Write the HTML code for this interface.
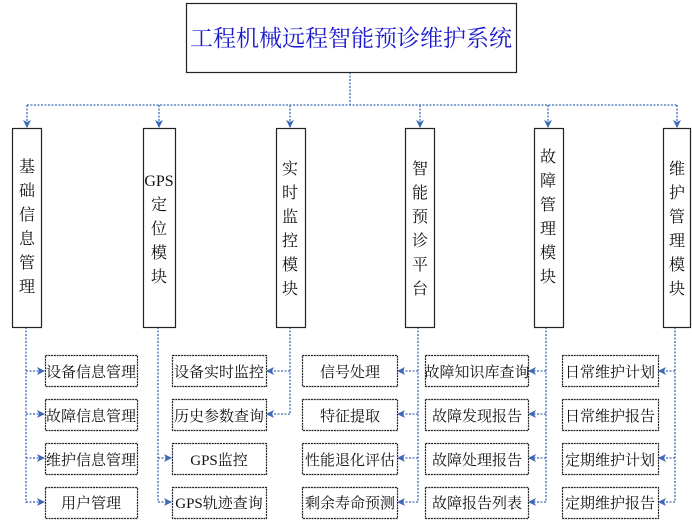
<!DOCTYPE html>
<html><head><meta charset="utf-8"><style>
html,body{margin:0;padding:0;background:#fff;}
svg text{font-family:"Liberation Serif","Noto Serif CJK SC",serif;fill:#111;}
</style></head><body>
<svg width="692" height="521" viewBox="0 0 692 521" xmlns="http://www.w3.org/2000/svg">
<defs>
<marker id="a" markerWidth="8" markerHeight="8" refX="7" refY="4" orient="auto" markerUnits="userSpaceOnUse">
<path d="M0,0 L8,4 L0,8 L2,4 Z" fill="#3a6ab8"/></marker>
</defs>
<g stroke="#3a6ab8" stroke-width="1.3" fill="none" stroke-dasharray="2,1.5">
<line x1="350" y1="72" x2="350" y2="105"/>
<line x1="27" y1="105" x2="677" y2="105"/>
<line x1="27" y1="105" x2="27" y2="127" marker-end="url(#a)"/>
<line x1="159" y1="105" x2="159" y2="127" marker-end="url(#a)"/>
<line x1="290" y1="105" x2="290" y2="127" marker-end="url(#a)"/>
<line x1="420" y1="105" x2="420" y2="127" marker-end="url(#a)"/>
<line x1="548" y1="105" x2="548" y2="127" marker-end="url(#a)"/>
<line x1="677" y1="105" x2="677" y2="127" marker-end="url(#a)"/>
<line x1="26" y1="327" x2="26" y2="503"/>
<line x1="26" y1="371" x2="44" y2="371" marker-end="url(#a)"/>
<line x1="26" y1="414" x2="44" y2="414" marker-end="url(#a)"/>
<line x1="26" y1="458" x2="44" y2="458" marker-end="url(#a)"/>
<line x1="26" y1="502" x2="44" y2="502" marker-end="url(#a)"/>
<line x1="158" y1="327" x2="158" y2="502"/>
<line x1="158" y1="458" x2="171" y2="458" marker-end="url(#a)"/>
<line x1="158" y1="502" x2="171" y2="502" marker-end="url(#a)"/>
<line x1="290" y1="327" x2="290" y2="414"/>
<line x1="290" y1="371" x2="267" y2="371" marker-end="url(#a)"/>
<line x1="290" y1="414" x2="267" y2="414" marker-end="url(#a)"/>
<line x1="418" y1="327" x2="418" y2="502"/>
<line x1="418" y1="371" x2="398" y2="371" marker-end="url(#a)"/>
<line x1="418" y1="414" x2="398" y2="414" marker-end="url(#a)"/>
<line x1="418" y1="458" x2="398" y2="458" marker-end="url(#a)"/>
<line x1="418" y1="502" x2="398" y2="502" marker-end="url(#a)"/>
<line x1="546" y1="327" x2="546" y2="502"/>
<line x1="546" y1="371" x2="529" y2="371" marker-end="url(#a)"/>
<line x1="546" y1="414" x2="529" y2="414" marker-end="url(#a)"/>
<line x1="546" y1="458" x2="529" y2="458" marker-end="url(#a)"/>
<line x1="546" y1="502" x2="529" y2="502" marker-end="url(#a)"/>
<line x1="675" y1="327" x2="675" y2="502"/>
<line x1="675" y1="371" x2="659" y2="371" marker-end="url(#a)"/>
<line x1="675" y1="458" x2="659" y2="458" marker-end="url(#a)"/>
<line x1="675" y1="502" x2="659" y2="502" marker-end="url(#a)"/>
</g>
<g stroke="#222" stroke-width="1.2" fill="#fff">
<rect x="186.5" y="3.5" width="330" height="69"/>
<rect x="12.5" y="128.5" width="29" height="199"/>
<rect x="143.5" y="128.5" width="32" height="199"/>
<rect x="276.5" y="128.5" width="29" height="199"/>
<rect x="405.5" y="128.5" width="29" height="199"/>
<rect x="534.5" y="128.5" width="29" height="199"/>
<rect x="663.5" y="128.5" width="27" height="199"/>
</g>
<g stroke="#222" stroke-width="1.2" fill="#fff" stroke-dasharray="2,0.8">
<rect x="45.5" y="355.5" width="92" height="31"/><rect x="45.5" y="399.5" width="92" height="31"/><rect x="45.5" y="443.5" width="92" height="31"/><rect x="45.5" y="487.5" width="92" height="31"/>
<rect x="172.5" y="355.5" width="94" height="31"/><rect x="172.5" y="399.5" width="94" height="31"/><rect x="172.5" y="443.5" width="94" height="31"/><rect x="172.5" y="487.5" width="94" height="31"/>
<rect x="302.5" y="355.5" width="95" height="31"/><rect x="302.5" y="399.5" width="95" height="31"/><rect x="302.5" y="443.5" width="95" height="31"/><rect x="302.5" y="487.5" width="95" height="31"/>
<rect x="425.5" y="355.5" width="103" height="31"/><rect x="425.5" y="399.5" width="103" height="31"/><rect x="425.5" y="443.5" width="103" height="31"/><rect x="425.5" y="487.5" width="103" height="31"/>
<rect x="562.5" y="355.5" width="96" height="31"/><rect x="562.5" y="399.5" width="96" height="31"/><rect x="562.5" y="443.5" width="96" height="31"/><rect x="562.5" y="487.5" width="96" height="31"/>
</g>
<text x="351" y="46" font-size="23" text-anchor="middle" style="fill:#1a1acc">工程机械远程智能预诊维护系统</text>
<g font-size="16" text-anchor="middle">
<text x="27" y="172">基</text><text x="27" y="196">础</text><text x="27" y="220">信</text><text x="27" y="244">息</text><text x="27" y="268">管</text><text x="27" y="292">理</text>
<text x="159" y="186">GPS</text><text x="159" y="210">定</text><text x="159" y="234">位</text><text x="159" y="258">模</text><text x="159" y="282">块</text>
<text x="290" y="174">实</text><text x="290" y="198">时</text><text x="290" y="222">监</text><text x="290" y="246">控</text><text x="290" y="270">模</text><text x="290" y="294">块</text>
<text x="420" y="174">智</text><text x="420" y="198">能</text><text x="420" y="222">预</text><text x="420" y="246">诊</text><text x="420" y="270">平</text><text x="420" y="294">台</text>
<text x="548" y="162">故</text><text x="548" y="186">障</text><text x="548" y="210">管</text><text x="548" y="234">理</text><text x="548" y="258">模</text><text x="548" y="282">块</text>
<text x="677" y="174">维</text><text x="677" y="198">护</text><text x="677" y="222">管</text><text x="677" y="246">理</text><text x="677" y="270">模</text><text x="677" y="294">块</text>
</g>
<g font-size="15" text-anchor="middle">
<text x="91" y="377">设备信息管理</text><text x="91" y="421">故障信息管理</text><text x="91" y="465">维护信息管理</text><text x="91" y="508">用户管理</text>
<text x="219" y="377">设备实时监控</text><text x="219" y="421">历史参数查询</text><text x="219" y="465">GPS监控</text><text x="219" y="508">GPS轨迹查询</text>
<text x="350" y="377">信号处理</text><text x="350" y="421">特征提取</text><text x="350" y="465">性能退化评估</text><text x="350" y="508">剩余寿命预测</text>
<text x="477" y="377">故障知识库查询</text><text x="477" y="421">故障发现报告</text><text x="477" y="465">故障处理报告</text><text x="477" y="508">故障报告列表</text>
<text x="610" y="377">日常维护计划</text><text x="610" y="421">日常维护报告</text><text x="610" y="465">定期维护计划</text><text x="610" y="508">定期维护报告</text>
</g>
</svg>
</body></html>
